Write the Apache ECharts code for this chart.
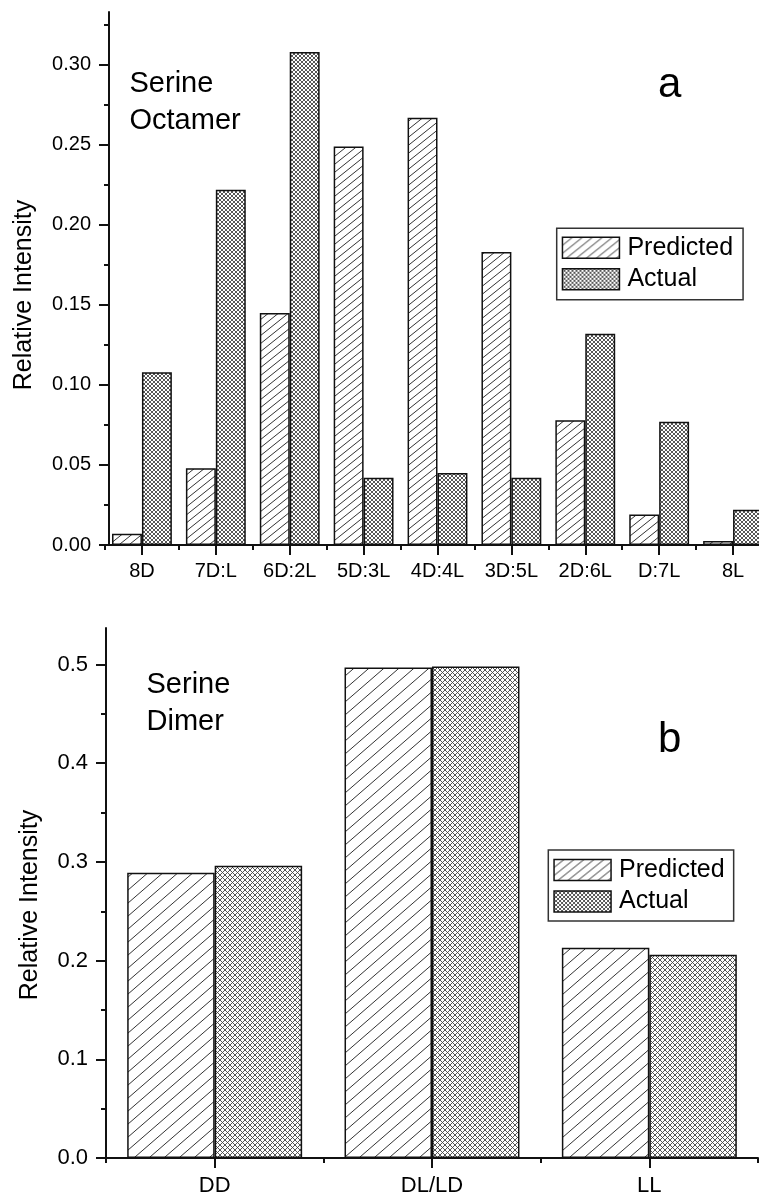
<!DOCTYPE html>
<html>
<head>
<meta charset="utf-8">
<script src="https://cdn.jsdelivr.net/npm/echarts@6/dist/echarts.min.js"></script>
<style>
  html, body { margin: 0; padding: 0; background: #fff; }
  #chart { width: 759px; height: 1196px; }
</style>
</head>
<body>
<div id="chart"></div>
<script>
// panel a: serine octamer
const octCategories = ['8D', '7D:L', '6D:2L', '5D:3L', '4D:4L', '3D:5L', '2D:6L', 'D:7L', '8L'];
const octPredicted = [0.007, 0.048, 0.145, 0.249, 0.267, 0.183, 0.078, 0.019, 0.0025];
const octActual = [0.108, 0.222, 0.308, 0.042, 0.045, 0.042, 0.132, 0.077, 0.022];
const octTicks = [0, 0.05, 0.10, 0.15, 0.20, 0.25, 0.30];
const octMinorTicks = [0.025, 0.075, 0.125, 0.175, 0.225, 0.275, 0.325];

// panel b: serine dimer
const dimCategories = ['DD', 'DL/LD', 'LL'];
const dimPredicted = [0.289, 0.497, 0.213];
const dimActual = [0.296, 0.498, 0.206];
const dimTicks = [0, 0.1, 0.2, 0.3, 0.4, 0.5];
const dimMinorTicks = [0.05, 0.15, 0.25, 0.35, 0.45];

const seriesNames = ['Predicted', 'Actual'];

const FONT = 'Liberation Sans, Arial, sans-serif';
const INK = '#111';

/** diagonal "///" hatch tile */
function hatchTile(w, h, color) {
  const c = document.createElement('canvas');
  c.width = w; c.height = h;
  const ctx = c.getContext('2d');
  ctx.fillStyle = '#fff';
  ctx.fillRect(0, 0, w, h);
  ctx.strokeStyle = color;
  ctx.lineWidth = 1;
  [-1, 0, 1].forEach(k => {
    ctx.beginPath();
    ctx.moveTo(-w, 2 * h + k * h);
    ctx.lineTo(2 * w, -h + k * h);
    ctx.stroke();
  });
  return c;
}

/** cross hatch tile (diamond mesh) */
function crossTile(s, color, lw) {
  const c = document.createElement('canvas');
  c.width = s; c.height = s;
  const ctx = c.getContext('2d');
  ctx.fillStyle = '#fff';
  ctx.fillRect(0, 0, s, s);
  ctx.strokeStyle = color;
  ctx.lineWidth = lw;
  [-1, 0, 1].forEach(k => {
    ctx.beginPath();
    ctx.moveTo(-s, -s + k * s); ctx.lineTo(2 * s, 2 * s + k * s);
    ctx.moveTo(-s, 2 * s + k * s); ctx.lineTo(2 * s, -s + k * s);
    ctx.stroke();
  });
  return c;
}

const hatchA = { image: hatchTile(10, 8, '#333'), repeat: 'repeat' };
const crossA = { image: crossTile(4, '#444', 0.9), repeat: 'repeat' };
const hatchB = { image: hatchTile(15, 13, '#333'), repeat: 'repeat' };
const crossB = { image: crossTile(5, '#444', 0.9), repeat: 'repeat' };

const chart = echarts.init(document.getElementById('chart'), null, { renderer: 'canvas' });

function majorY(gridIndex, max, ticks, digits, fontSize, offset) {
  return {
    type: 'value', gridIndex: gridIndex, position: 'left', offset: offset,
    min: 0, max: max,
    axisLine: { show: true, onZero: false, lineStyle: { color: INK, width: 2 } },
    axisTick: { show: true, inside: false, length: 10, customValues: ticks, lineStyle: { color: INK, width: 2 } },
    axisLabel: {
      show: true, margin: 18, customValues: ticks, color: '#000', fontSize: fontSize, fontFamily: FONT,
      formatter: v => v.toFixed(digits)
    },
    splitLine: { show: false }
  };
}
function minorY(gridIndex, max, ticks, offset) {
  return {
    type: 'value', gridIndex: gridIndex, position: 'left', offset: offset,
    min: 0, max: max,
    axisLine: { show: false },
    axisTick: { show: true, inside: false, length: 5, customValues: ticks, lineStyle: { color: INK, width: 2 } },
    axisLabel: { show: false },
    splitLine: { show: false }
  };
}
function majorX(gridIndex, cats, fontSize, margin) {
  return {
    type: 'category', gridIndex: gridIndex, position: 'bottom', data: cats, boundaryGap: true,
    axisLine: { show: true, onZero: false, lineStyle: { color: INK, width: 2 } },
    axisTick: { show: true, alignWithLabel: true, interval: 0, length: 10, lineStyle: { color: INK, width: 2 } },
    axisLabel: { show: true, interval: 0, margin: margin, color: '#000', fontSize: fontSize, fontFamily: FONT },
    splitLine: { show: false }
  };
}
function minorX(gridIndex, cats) {
  return {
    type: 'category', gridIndex: gridIndex, position: 'bottom', data: cats, boundaryGap: true,
    axisLine: { show: false },
    axisTick: { show: true, alignWithLabel: false, interval: 0, length: 5, lineStyle: { color: INK, width: 2 } },
    axisLabel: { show: false },
    splitLine: { show: false }
  };
}
function barSeries(name, data, xi, yi, fill, gap) {
  return {
    name: name, type: 'bar', xAxisIndex: xi, yAxisIndex: yi, data: data,
    barGap: '0%', barCategoryGap: gap,
    itemStyle: { color: fill, borderColor: INK, borderWidth: 1.5 },
    emphasis: { disabled: true }
  };
}
function legendBox(left, top, padding) {
  return {
    orient: 'vertical', left: left, top: top, data: seriesNames,
    icon: 'rect', itemWidth: 57, itemHeight: 21, itemGap: 6.5,
    padding: padding, borderColor: '#333', borderWidth: 1.5, backgroundColor: '#fff',
    itemStyle: { borderColor: INK, borderWidth: 1.5 },
    textStyle: { color: '#000', fontSize: 25, lineHeight: 25, fontFamily: FONT, padding: [0, 0, 0, 3] },
    selectedMode: false
  };
}
function label(text, x, y, size, lineHeight) {
  return {
    type: 'text', left: x, top: y, silent: true,
    style: { text: text, fontSize: size, lineHeight: lineHeight, fontFamily: FONT, fill: '#000' }
  };
}
function yTitle(x, y) {
  return {
    type: 'text', x: x, y: y, rotation: Math.PI / 2, silent: true,
    style: {
      text: 'Relative Intensity', fontSize: 25, fontFamily: FONT, fill: '#000',
      align: 'center', verticalAlign: 'middle'
    }
  };
}

let option = {
  animation: false,
  backgroundColor: '#fff',
  grid: [
    { left: 105, top: 12, width: 665, height: 533, outerBoundsMode: 'none', containLabel: false },
    { left: 106, top: 628, width: 652, height: 530, outerBoundsMode: 'none', containLabel: false }
  ],
  xAxis: [
    majorX(0, octCategories, 20, 16),
    minorX(0, octCategories),
    majorX(1, dimCategories, 22, 17),
    minorX(1, dimCategories)
  ],
  yAxis: [
    majorY(0, 0.333, octTicks, 2, 20, -4),
    minorY(0, 0.333, octMinorTicks, -4),
    majorY(1, 0.537, dimTicks, 1, 22, 0),
    minorY(1, 0.537, dimMinorTicks, 0)
  ],
  legend: [
    legendBox(556.7, 228.3, [7, 10, 8, 5]),
    legendBox(548.3, 850, [7.5, 9, 7, 5])
  ],
  series: [
    barSeries(seriesNames[0], octPredicted, 0, 0, hatchA, '19%'),
    barSeries(seriesNames[1], octActual, 0, 0, crossA, '19%'),
    barSeries(seriesNames[0], dimPredicted, 2, 2, hatchB, '19.5%'),
    barSeries(seriesNames[1], dimActual, 2, 2, crossB, '19.5%')
  ],
  graphic: [
    label('Serine\nOctamer', 129.5, 65.5, 29, 36.7),
    label('a', 658, 64.3, 42, 42),
    label('Serine\nDimer', 146.5, 666.5, 29, 36.7),
    label('b', 658, 719.3, 42, 42),
    yTitle(24, 295),
    yTitle(30, 905)
  ]
};
chart.setOption(option, true);
</script>
</body>
</html>
